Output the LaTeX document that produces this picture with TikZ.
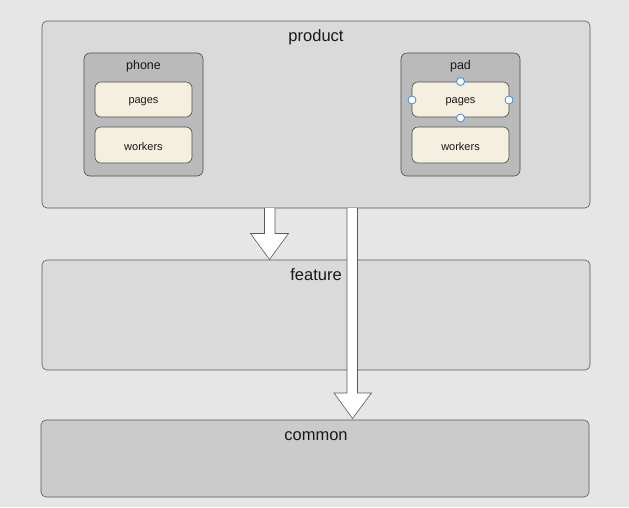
\documentclass[tikz,border=0pt]{standalone}
\usepackage{fontspec}
\setmainfont{Liberation Sans}
\begin{document}
\begin{tikzpicture}[x=1pt,y=-1pt,
  bigbox/.style={draw=black!65,line width=0.6pt,rounded corners=5pt},
  grp/.style={draw=black!70,line width=0.6pt,rounded corners=6pt,fill=grpgray},
  item/.style={draw=black!70,line width=0.6pt,rounded corners=6pt,fill=cream},
  biglabel/.style={font=\fontsize{16.5}{18}\selectfont,text=black!90},
  midlabel/.style={font=\fontsize{12.5}{14}\selectfont,text=black!90},
  smalllabel/.style={font=\fontsize{11}{12}\selectfont,text=black!90},
  blockarrow/.style={draw=black!65,line width=0.6pt,fill=white,line join=miter},
  handle/.style={circle,draw=handleblue,fill=white,line width=0.8pt,inner sep=0pt,minimum size=8pt}]
\definecolor{bg}{HTML}{E6E6E6}
\definecolor{boxgray}{HTML}{DADADA}
\definecolor{commongray}{HTML}{CBCBCB}
\definecolor{grpgray}{HTML}{BABABA}
\definecolor{cream}{HTML}{F4EFDF}
\definecolor{handleblue}{HTML}{3C8DE6}
\fill[bg] (0,0) rectangle (629,507);
\useasboundingbox (0,0) rectangle (629,507);
% big containers
\draw[bigbox,fill=boxgray] (42,21) rectangle (590,208);
\node[biglabel] (productL) at (316,37) {product};
\draw[bigbox,fill=boxgray] (42,260) rectangle (590,370);
\node[biglabel] (featureL) at (316,275) {feature};
\draw[bigbox,fill=commongray] (41,420) rectangle (589,497);
\node[biglabel] (commonL) at (316,436) {common};
% groups
\draw[grp] (84,53) rectangle (203,176);
\node[midlabel] (phoneL) at (143.5,66) {phone};
\draw[item] (95,82) rectangle (192,117);
\node[smalllabel] (phonePages) at (143.5,101.5) {pages};
\draw[item] (95,127) rectangle (192,163);
\node[smalllabel] (phoneWorkers) at (143.5,147) {workers};
\draw[grp] (401,53) rectangle (520,176);
\node[midlabel] (padL) at (460.5,66) {pad};
\draw[item] (412,82) rectangle (509,117);
\node[smalllabel] (padPages) at (460.5,101.5) {pages};
\draw[item] (412,127) rectangle (509,163);
\node[smalllabel] (padWorkers) at (460.5,147) {workers};
% selection handles
\node[handle] (h1) at (460.5,81.5) {};
\node[handle] (h2) at (412,100) {};
\node[handle] (h3) at (509,100) {};
\node[handle] (h4) at (460.5,118) {};
% block arrows
\draw[blockarrow] (264.5,208) -- (264.5,233.5) -- (250.5,233.5) -- (269.5,259.5) -- (288.5,233.5) -- (275,233.5) -- (275,208);
\draw[blockarrow] (347,208) -- (347,393) -- (334,393) -- (352.5,418.5) -- (371.5,393) -- (357.5,393) -- (357.5,208);
\end{tikzpicture}
\end{document}
